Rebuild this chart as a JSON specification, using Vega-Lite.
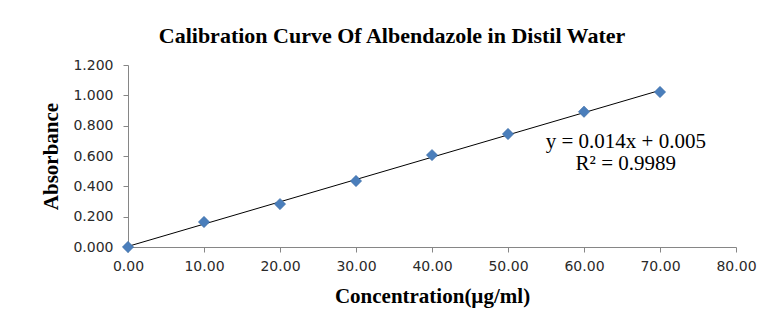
{
  "$schema": "https://vega.github.io/schema/vega-lite/v6.json",
  "width": 608,
  "height": 182,
  "autosize": {"type": "none"},
  "padding": {"left": 128, "top": 65, "right": 28, "bottom": 77},
  "background": "white",
  "title": {
    "text": "Calibration  Curve Of Albendazole in Distil Water",
    "font": "Liberation Serif",
    "fontSize": 22,
    "fontWeight": "bold",
    "color": "#000000",
    "anchor": "middle",
    "frame": "group",
    "dx": -40,
    "offset": 10
  },
  "config": {
    "view": {"stroke": null},
    "axis": {
      "grid": false,
      "domainColor": "#868686",
      "tickColor": "#868686",
      "labelFont": "DejaVu Sans",
      "labelFontSize": 14,
      "labelColor": "#2a2a2a",
      "labelFlush": false,
      "labelOverlap": false,
      "titleFont": "Liberation Serif",
      "titleFontSize": 21,
      "titleFontWeight": "bold",
      "titleColor": "#000000"
    }
  },
  "datasets": {
    "points": [
      {"conc": 0, "abs": 0.0},
      {"conc": 10, "abs": 0.165},
      {"conc": 20, "abs": 0.283},
      {"conc": 30, "abs": 0.435},
      {"conc": 40, "abs": 0.606},
      {"conc": 50, "abs": 0.745},
      {"conc": 60, "abs": 0.892},
      {"conc": 70, "abs": 1.022}
    ],
    "notes": [
      {"conc": 65.5, "abs": 0.693, "label": "y = 0.014x + 0.005"},
      {"conc": 65.5, "abs": 0.548, "label": "R² = 0.9989"}
    ]
  },
  "layer": [
    {
      "data": {"name": "points"},
      "transform": [{"regression": "abs", "on": "conc", "method": "linear", "extent": [0, 70]}],
      "mark": {"type": "line", "color": "#000000", "strokeWidth": 1},
      "encoding": {
        "x": {"field": "conc", "type": "quantitative"},
        "y": {"field": "abs", "type": "quantitative"}
      }
    },
    {
      "data": {"name": "points"},
      "mark": {"type": "point", "shape": "diamond", "filled": true, "size": 130, "color": "#4a7ebb", "opacity": 1, "stroke": "#3d6aa3", "strokeWidth": 0.5},
      "encoding": {
        "x": {
          "field": "conc",
          "type": "quantitative",
          "scale": {"domain": [0, 80], "nice": false, "zero": true},
          "axis": {
            "title": "Concentration(µg/ml)",
            "values": [0, 10, 20, 30, 40, 50, 60, 70, 80],
            "tickCount": 20,
            "format": ".2f",
            "tickSize": 5,
            "labelPadding": 7,
            "titlePadding": 12
          }
        },
        "y": {
          "field": "abs",
          "type": "quantitative",
          "scale": {"domain": [0, 1.2], "nice": false},
          "axis": {
            "title": "Absorbance",
            "values": [0, 0.2, 0.4, 0.6, 0.8, 1.0, 1.2],
            "tickCount": 20,
            "format": ".3f",
            "tickSize": 5,
            "labelPadding": 10,
            "titlePadding": 11
          }
        }
      }
    },
    {
      "data": {"name": "notes"},
      "mark": {"type": "text", "font": "Liberation Serif", "fontSize": 21, "color": "#000000", "align": "center", "baseline": "middle"},
      "encoding": {
        "x": {"field": "conc", "type": "quantitative"},
        "y": {"field": "abs", "type": "quantitative"},
        "text": {"field": "label"}
      }
    }
  ]
}
